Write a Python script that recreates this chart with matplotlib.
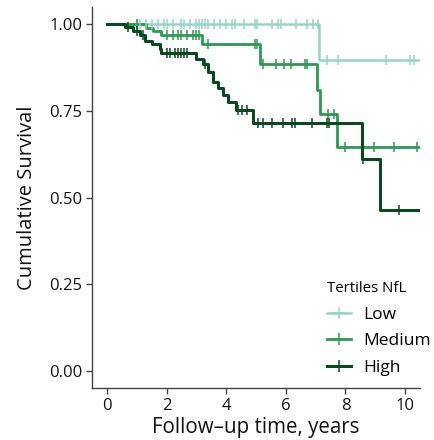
import numpy as np
import matplotlib
matplotlib.use("Agg")
import matplotlib.pyplot as plt
from matplotlib.lines import Line2D

plt.rcParams['font.family'] = ['Open Sans', 'DejaVu Sans']

# ---- data ----
groups = ["Low", "Medium", "High"]
colors = {"Low": "#93d6c3", "Medium": "#2b9a52", "High": "#0a4822"}
end_time = 10.5

low_times = [0, 7.1]
low_surv = [1.0, 0.897]
low_cens = [1.0, 1.1, 1.3, 1.5, 1.7, 1.9, 2.0, 2.2, 2.5, 2.6, 2.8, 3.0, 3.1, 3.2,
            3.3, 3.4, 3.6, 3.8, 4.0, 4.2, 4.3, 4.6, 4.97, 5.03, 5.54, 5.74, 5.84,
            6.34, 6.71, 6.91, 7.08, 7.38, 7.75, 9.36, 10.17, 10.3]

med_times = [0, 1.3, 1.55, 1.8, 3.2, 5.15, 7.05, 7.15, 7.7]
med_surv = [1.0, 0.99, 0.98, 0.968, 0.943, 0.886, 0.81, 0.74, 0.647]
med_cens = [1.0, 2.0, 2.2, 2.4, 2.5, 2.7, 2.9, 3.0, 3.1, 3.4, 4.97, 5.03, 5.23,
            5.67, 5.94, 6.17, 6.64, 6.71, 7.4, 7.6, 8.0, 8.96, 9.63, 10.4]

high_times = [0, 0.6, 0.87, 1.1, 1.28, 1.5, 1.78, 1.83, 3.0, 3.22, 3.4, 3.56,
              3.73, 3.9, 4.05, 4.33, 4.9, 8.55, 9.15]
high_surv = [1.0, 0.991, 0.982, 0.968, 0.953, 0.944, 0.930, 0.916, 0.901, 0.887,
             0.863, 0.835, 0.816, 0.797, 0.775, 0.752, 0.715, 0.612, 0.464]
high_cens = [0.7, 1.0, 1.2, 2.0, 2.1, 2.3, 2.4, 2.5, 2.6, 2.7, 3.3, 4.4, 4.53,
             4.7, 5.07, 5.23, 5.54, 5.9, 6.2, 6.3, 6.88, 7.38, 7.45, 8.6, 9.8]

x_ticks = [0, 2, 4, 6, 8, 10]
y_ticks = [0.00, 0.25, 0.50, 0.75, 1.00]
y_ticklabels = ["0.00", "0.25", "0.50", "0.75", "1.00"]

data = {
    "Low": (low_times, low_surv, low_cens),
    "Medium": (med_times, med_surv, med_cens),
    "High": (high_times, high_surv, high_cens),
}
widths = {"Low": 1.8, "Medium": 2.0, "High": 2.2}

fig = plt.figure(figsize=(4.35, 4.4), dpi=100)
ax = fig.add_axes([0.2115, 0.118, 0.754, 0.866])

for g in groups:
    t, s, c = data[g]
    tt = list(t) + [end_time]
    ss = list(s) + [s[-1]]
    ax.step(tt, ss, where="post", color=colors[g], lw=widths[g], zorder=3)
    t_arr = np.array(t)
    s_arr = np.array(s)
    cy = [s_arr[np.searchsorted(t_arr, ci, side="right") - 1] for ci in c]
    ax.plot(c, cy, linestyle="none", marker="|", markersize=7,
            markeredgewidth=1.1, color=colors[g], zorder=4)

ax.set_xlim(-0.5, 10.5)
ax.set_ylim(-0.05, 1.05)
ax.set_xticks(x_ticks)
ax.set_yticks(y_ticks)
ax.set_yticklabels(y_ticklabels)
for sp in ["top", "right"]:
    ax.spines[sp].set_visible(False)
for sp in ["left", "bottom"]:
    ax.spines[sp].set_color("#444444")
    ax.spines[sp].set_linewidth(1.0)
ax.tick_params(axis="both", direction="out", length=4, width=1.0,
               color="#444444", labelsize=12, labelcolor="#111111", pad=3)

ax.set_xlabel("Follow–up time, years", fontsize=14.8, labelpad=2, color="#111111")
ax.set_ylabel("Cumulative Survival", fontsize=14.5, labelpad=9, color="#111111")

handles = [Line2D([0], [0], color=colors[g], lw=widths[g], marker="+",
                  markersize=9, markeredgewidth=1.1) for g in groups]
leg = ax.legend(handles, groups, title="Tertiles NfL", loc="lower right",
                bbox_to_anchor=(1.07, 0.0), frameon=False, fontsize=12.5,
                title_fontsize=10.8, handlelength=1.4, handletextpad=0.7,
                labelspacing=0.6, borderaxespad=0.3)
leg._legend_box.align = "left"

fig.savefig("out.png", dpi=100)
